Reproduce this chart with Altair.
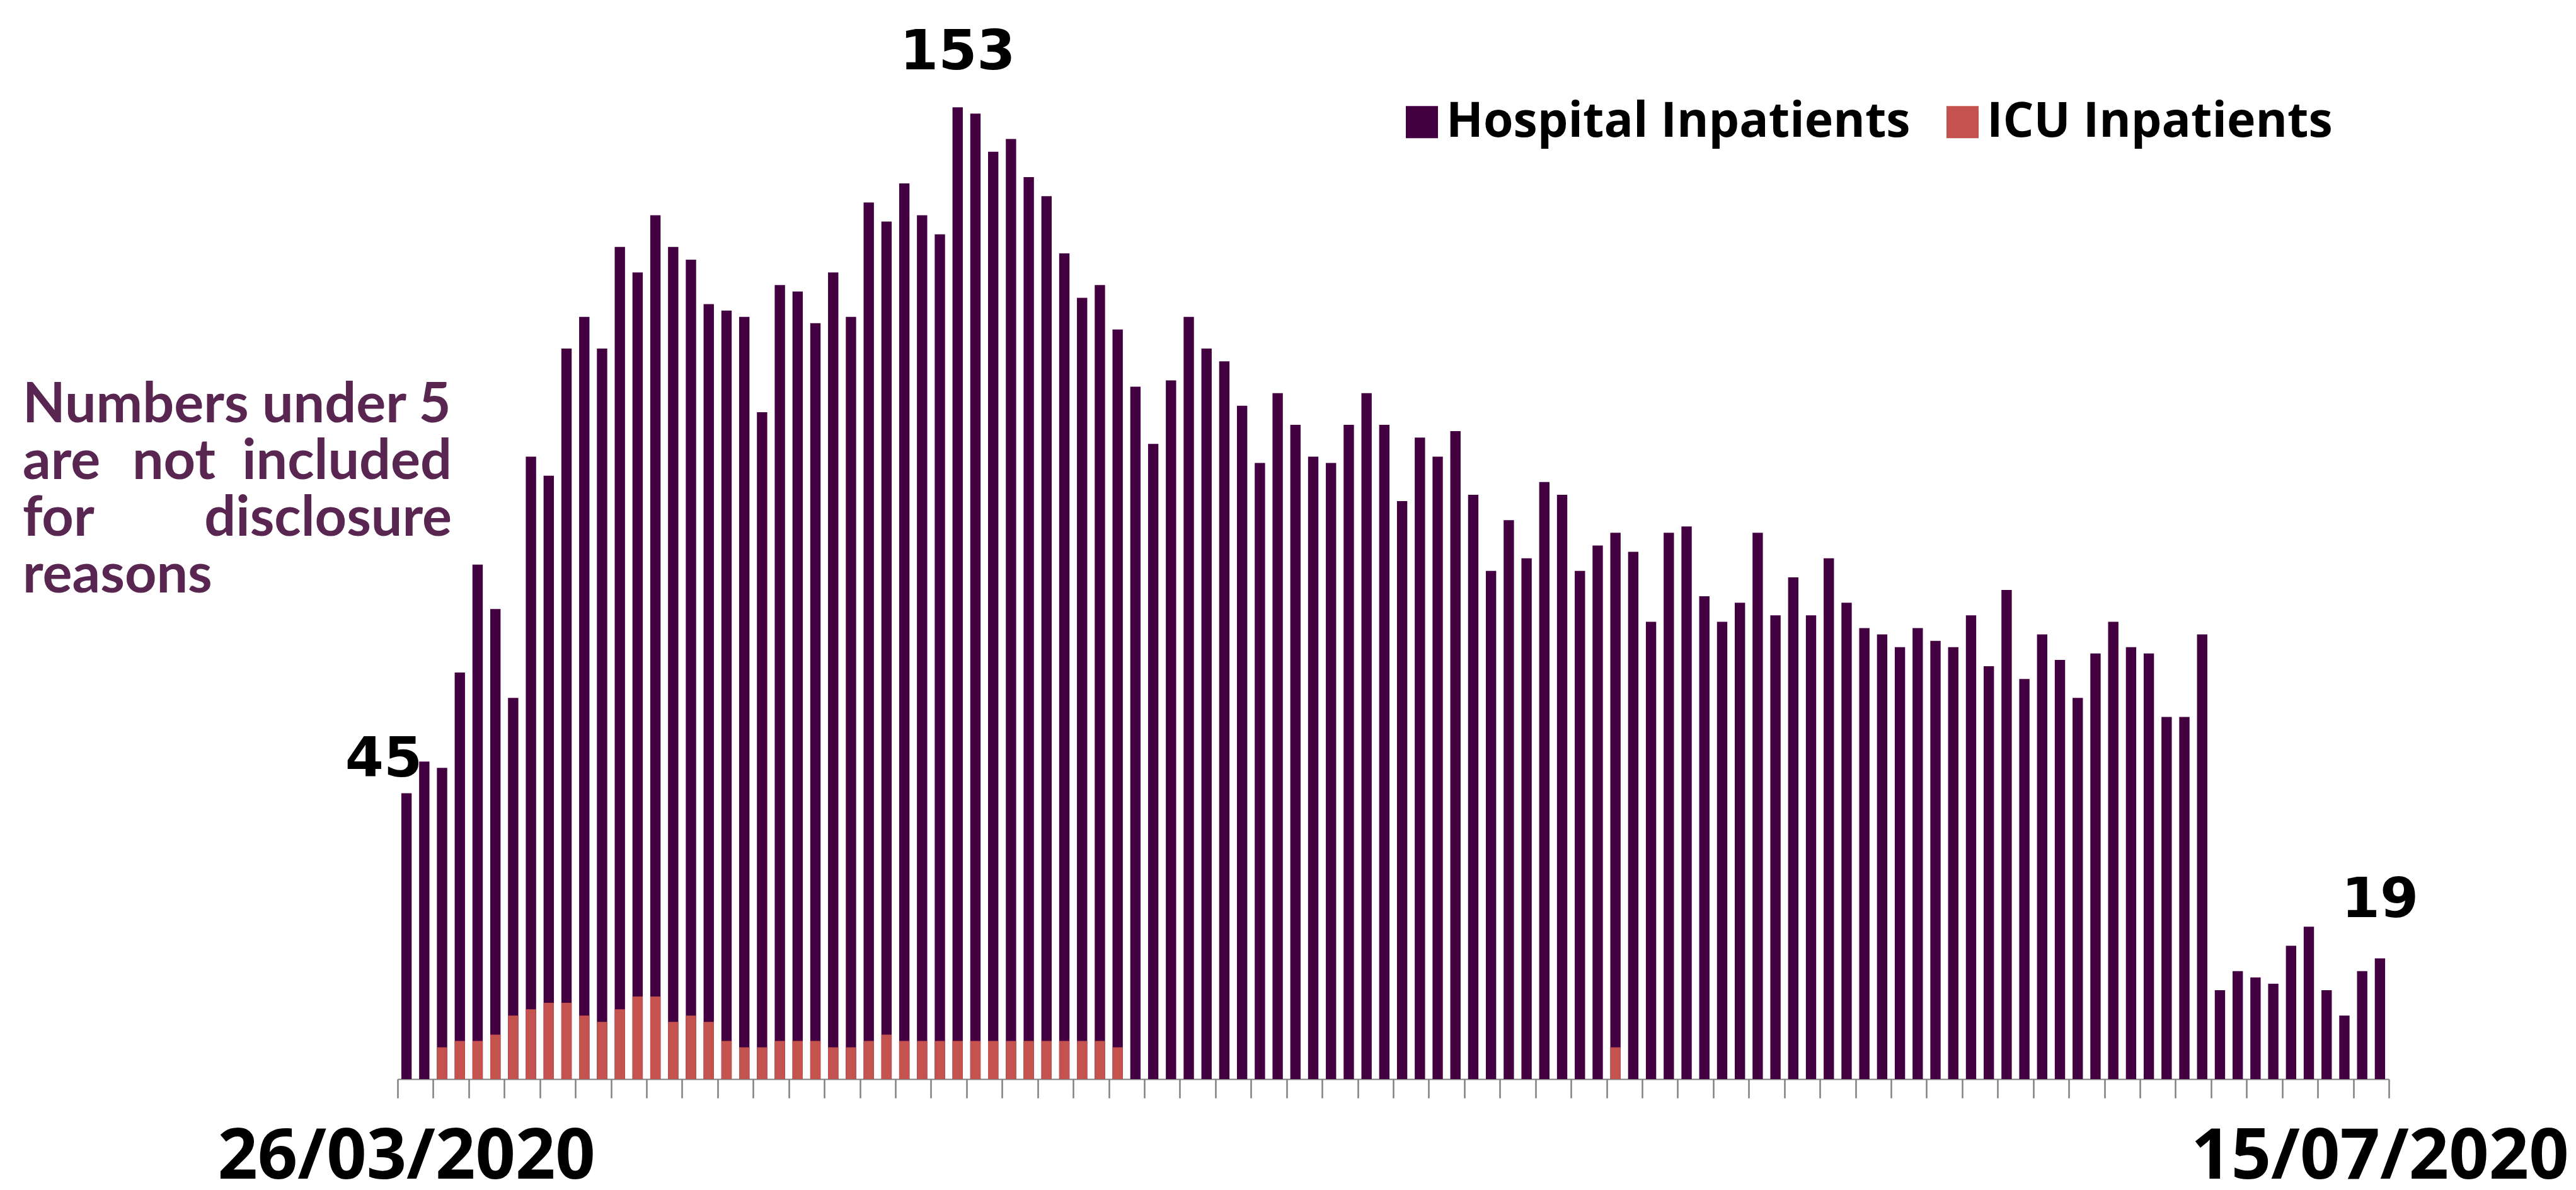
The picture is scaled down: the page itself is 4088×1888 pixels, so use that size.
import altair as alt
import pandas as pd

# ---- data ----
start_label = "26/03/2020"
end_label = "15/07/2020"
series = ["Hospital Inpatients", "ICU Inpatients"]
series_colors = ["#420040", "#c4524f"]

hospital = [45, 50, 49, 64, 81, 74, 60, 98, 95, 115,
            120, 115, 131, 127, 136, 131, 129, 122, 121, 120,
            105, 125, 124, 119, 127, 120, 138, 135, 141, 136,
            133, 153, 152, 146, 148, 142, 139, 130, 123, 125,
            118, 109, 100, 110, 120, 115, 113, 106, 97, 108,
            103, 98, 97, 103, 108, 103, 91, 101, 98, 102,
            92, 80, 88, 82, 94, 92, 80, 84, 86, 83,
            72, 86, 87, 76, 72, 75, 86, 73, 79, 73,
            82, 75, 71, 70, 68, 71, 69, 68, 73, 65,
            77, 63, 70, 66, 60, 67, 72, 68, 67, 57,
            57, 70, 14, 17, 16, 15, 21, 24, 14, 10,
            17, 19]

icu = [0, 0, 5, 6, 6, 7, 10, 11, 12, 12,
       10, 9, 11, 13, 13, 9, 10, 9, 6, 5,
       5, 6, 6, 6, 5, 5, 6, 7, 6, 6,
       6, 6, 6, 6, 6, 6, 6, 6, 6, 6,
       5, 0, 0, 0, 0, 0, 0, 0, 0, 0,
       0, 0, 0, 0, 0, 0, 0, 0, 0, 0,
       0, 0, 0, 0, 0, 0, 0, 0, 5, 0,
       0, 0, 0, 0, 0, 0, 0, 0, 0, 0,
       0, 0, 0, 0, 0, 0, 0, 0, 0, 0,
       0, 0, 0, 0, 0, 0, 0, 0, 0, 0,
       0, 0, 0, 0, 0, 0, 0, 0, 0, 0,
       0, 0]

note_line1 = "Numbers under 5"
note_line2 = ["are", "not", "included"]
note_line3 = ["for", "disclosure"]
note_line4 = "reasons"

n = len(hospital)
day_labels = [""] * n
day_labels[0] = start_label
day_labels[-1] = end_label

df = pd.DataFrame({
    "day": list(range(n)),
    "Hospital Inpatients": hospital,
    "ICU Inpatients": icu,
    "date_label": day_labels,
})

W, H = 3160, 1693
xscale = alt.Scale(domain=[0, n], nice=False, zero=False)
yscale = alt.Scale(domain=[0, 168], nice=False, zero=True)

base = alt.Chart(df)

bars = (
    base.transform_fold(series, as_=["series", "value"])
    .transform_filter("datum.value > 0")
    .transform_calculate(x0="datum.day + 0.21", x1="datum.day + 0.79")
    .mark_bar()
    .encode(
        x=alt.X("x0:Q", scale=xscale,
                axis=alt.Axis(values=list(range(n + 1)), labels=False, ticks=True,
                              tickSize=30, tickColor="#808080", tickWidth=2.5,
                              domain=True, domainColor="#808080", domainWidth=2,
                              grid=False, title=None)),
        x2="x1:Q",
        y=alt.Y("value:Q", scale=yscale, stack=None, axis=None),
        y2=alt.datum(0),
        color=alt.Color("series:N",
                        scale=alt.Scale(domain=series, range=series_colors),
                        legend=alt.Legend(orient="none", legendX=1587, legendY=136,
                                          direction="horizontal", title=None,
                                          symbolType="square", symbolSize=2601,
                                          symbolStrokeWidth=0, symbolOpacity=1,
                                          labelFont="Open Sans", labelFontWeight="bold",
                                          labelFontSize=77, labelColor="black",
                                          labelLimit=2000, labelOffset=0,
                                          columnPadding=44, padding=0)),
    )
)

label_font = dict(font="DejaVu Sans", fontWeight="bold", fontSize=88,
                  color="black", baseline="alphabetic", align="center")

def value_label(day, dx, dy):
    return (
        base.transform_filter(alt.datum.day == day)
        .transform_calculate(xc="datum.day + 0.5")
        .mark_text(dx=dx, dy=dy, **label_font)
        .encode(x=alt.X("xc:Q", scale=xscale),
                y=alt.Y("Hospital Inpatients:Q", scale=yscale),
                text=alt.Text("Hospital Inpatients:Q"))
    )

lab_first = value_label(0, -36, -27)
lab_peak = value_label(31, 0, -60)
lab_last = value_label(n - 1, 0, -66)

date_labels = (
    base.transform_filter("datum.date_label != ''")
    .transform_calculate(xc="datum.day + 0.5")
    .mark_text(font="Open Sans", fontWeight="bold", fontSize=111, color="black",
               baseline="alphabetic", align="center")
    .encode(x=alt.X("xc:Q", scale=xscale), y=alt.value(H + 158),
            text="date_label:N")
)

note_style = dict(font="Lato", fontWeight="bold", fontSize=88, color="#582650",
                  baseline="alphabetic")

def note(text, x, y, align):
    return (
        alt.Chart(pd.DataFrame({"t": [text]}))
        .mark_text(align=align, **note_style)
        .encode(x=alt.value(x), y=alt.value(y), text="t:N")
    )

left_x, right_x = -595, 86
notes = [
    note(note_line1, left_x, 651, "left"),
    note(note_line2[0], left_x, 741, "left"),
    note(note_line2[1], -355, 741, "center"),
    note(note_line2[2], right_x, 741, "right"),
    note(note_line3[0], left_x, 831, "left"),
    note(note_line3[1], right_x, 831, "right"),
    note(note_line4, left_x, 921, "left"),
]

chart = (
    alt.layer(bars, lab_first, lab_peak, lab_last, date_labels, *notes)
    .properties(width=W, height=H,
                padding={"left": 623, "top": 11, "right": 289, "bottom": 165},
                autosize=alt.AutoSizeParams(type="none"),
                background="white")
    .configure_view(stroke=None)
)

chart.save("out.html", embed_options={"renderer": "svg", "actions": False})
